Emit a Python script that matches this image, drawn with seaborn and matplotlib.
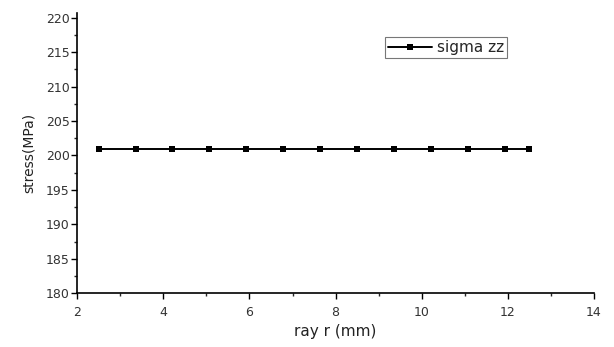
import matplotlib
matplotlib.use("Agg")
import matplotlib.pyplot as plt
from matplotlib.ticker import MultipleLocator
import pandas as pd
import seaborn as sns

sns.set_style("ticks")
plt.rcParams['font.family'] = ['DejaVu Sans']

# data
ray_r = [2.5, 3.36, 4.21, 5.07, 5.93, 6.79, 7.64, 8.5, 9.36, 10.21, 11.07, 11.93, 12.5]
sigma_zz = [201, 201, 201, 201, 201, 201, 201, 201, 201, 201, 201, 201, 201]

df = pd.DataFrame({"ray r (mm)": ray_r, "sigma zz": sigma_zz})

fig = plt.figure(figsize=(6.14, 3.47), dpi=100)
ax = fig.add_axes([0.126, 0.155, 0.841, 0.808])

sns.lineplot(data=df, x="ray r (mm)", y="sigma zz", ax=ax, color="black",
             marker="s", markersize=5, markeredgewidth=0, linewidth=1.4,
             label="sigma zz")

ax.set_xlim(2, 14)
ax.set_ylim(180, 220.7)
ax.xaxis.set_major_locator(MultipleLocator(2))
ax.xaxis.set_minor_locator(MultipleLocator(1))
ax.yaxis.set_major_locator(MultipleLocator(5))
ax.yaxis.set_minor_locator(MultipleLocator(2.5))
ax.tick_params(which="major", length=4, width=1, labelsize=9, colors="black",
               labelcolor="#333333")
ax.tick_params(which="minor", length=2.5, width=1)
ax.tick_params(axis="x", which="major", pad=5)
ax.tick_params(axis="y", which="major", pad=1.5)

for side in ["top", "right"]:
    ax.spines[side].set_visible(False)
for side in ["left", "bottom"]:
    ax.spines[side].set_linewidth(1.2)
    ax.spines[side].set_color("black")

ax.set_xlabel("ray r (mm)", fontsize=11, color="#222222", labelpad=4)
ax.set_ylabel("stress(MPa)", fontsize=10, color="#222222", labelpad=7)

leg = ax.legend(loc="upper left", bbox_to_anchor=(0.5955, 0.9145), fontsize=11,
                frameon=True, fancybox=False, handlelength=2.9,
                borderpad=0.2, handletextpad=0.3, borderaxespad=0)
leg.get_frame().set_edgecolor("#555555")
leg.get_frame().set_linewidth(0.8)

fig.savefig("out.png", dpi=100)
